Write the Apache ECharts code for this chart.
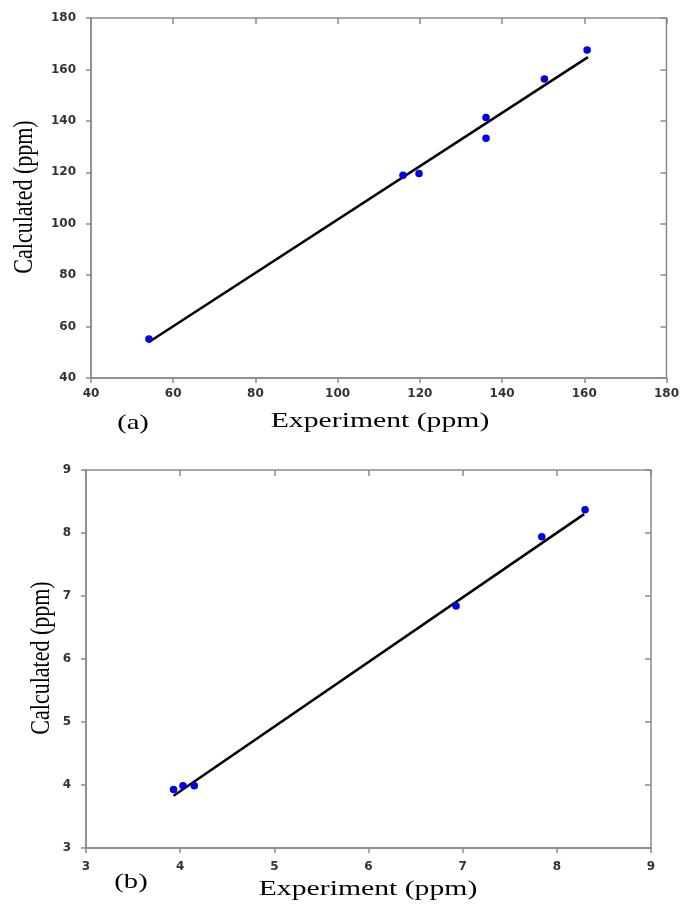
<!DOCTYPE html>
<html>
<head>
<meta charset="utf-8">
<script src="https://cdn.jsdelivr.net/npm/echarts@6/dist/echarts.min.js"></script>
<style>
html,body{margin:0;padding:0;background:#fff;}
#chart{width:682px;height:904px;}
</style>
</head>
<body>
<div id="chart"></div>
<script>
// Panel (a)
var expA = [54.1, 115.9, 119.8, 136.1, 136.1, 150.3, 160.7];
var calcA = [55.2, 118.8, 119.5, 141.3, 133.2, 156.3, 167.6];
var fitAx = [54.0, 160.9];
var fitAy = [53.9, 164.8];
var ticksA = [40, 60, 80, 100, 120, 140, 160, 180];
// Panel (b)
var expB = [3.93, 4.03, 4.15, 6.93, 7.84, 8.30];
var calcB = [3.93, 3.99, 3.99, 6.84, 7.94, 8.37];
var fitBx = [3.93, 8.29];
var fitBy = [3.83, 8.30];
var ticksB = [3, 4, 5, 6, 7, 8, 9];

var xTitle = 'Experiment (ppm)';
var yTitle = 'Calculated (ppm)';
var panelLabels = ['(a)', '(b)'];

function pairs(xs, ys) { return xs.map(function (x, i) { return [x, ys[i]]; }); }

var axisColor = '#8a8a8a';
var labelStyle = { color: '#333333', fontFamily: 'DejaVu Sans', fontWeight: 'bold', fontSize: 12 };

function mainAxis(grid, ticks, margin) {
  return {
    type: 'value', gridIndex: grid,
    min: ticks[0], max: ticks[ticks.length - 1], interval: ticks[1] - ticks[0],
    axisLine: { show: true, lineStyle: { color: axisColor, width: 1.5 } },
    axisTick: { show: true, inside: false, length: 5, lineStyle: { color: axisColor, width: 1.5 } },
    axisLabel: Object.assign({ margin: margin }, labelStyle),
    splitLine: { show: false }
  };
}
function overlayAxis(grid, ticks) {
  return {
    type: 'value', gridIndex: grid,
    min: ticks[0], max: ticks[ticks.length - 1], interval: ticks[1] - ticks[0],
    axisLine: { show: false },
    axisTick: { show: true, inside: true, length: 6, lineStyle: { color: axisColor, width: 1.5 } },
    axisLabel: { show: false },
    splitLine: { show: false }
  };
}

var serif = 'Liberation Serif';
function titleText(txt, x, y, sx, rot) {
  var el = {
    type: 'text', x: x, y: y,
    style: { text: txt, font: '22px "' + serif + '"', fill: '#000', textAlign: 'center', textVerticalAlign: 'middle' },
    silent: true
  };
  if (rot) { el.rotation = Math.PI / 2; el.scaleY = sx; } else { el.scaleX = sx; }
  return el;
}

var chart = echarts.init(document.getElementById('chart'), null, { renderer: 'canvas' });
chart.setOption({
  backgroundColor: '#ffffff',
  animation: false,
  grid: [
    { left: 91, top: 18, width: 576, height: 360, show: true, borderColor: axisColor, borderWidth: 1.5, backgroundColor: 'transparent' },
    { left: 86, top: 470, width: 565, height: 378, show: true, borderColor: axisColor, borderWidth: 1.5, backgroundColor: 'transparent' }
  ],
  xAxis: [mainAxis(0, ticksA, 10), mainAxis(1, ticksB, 13), overlayAxis(0, ticksA), overlayAxis(1, ticksB)],
  yAxis: [mainAxis(0, ticksA, 15), mainAxis(1, ticksB, 15), overlayAxis(0, ticksA), overlayAxis(1, ticksB)],
  series: [
    { type: 'line', xAxisIndex: 0, yAxisIndex: 0, data: pairs(fitAx, fitAy), showSymbol: false, symbol: 'none',
      lineStyle: { color: '#000', width: 2.5 }, z: 2 },
    { type: 'scatter', xAxisIndex: 0, yAxisIndex: 0, data: pairs(expA, calcA), symbolSize: 7.5,
      itemStyle: { color: '#0000e6', opacity: 1 }, z: 3 },
    { type: 'line', xAxisIndex: 1, yAxisIndex: 1, data: pairs(fitBx, fitBy), showSymbol: false, symbol: 'none',
      lineStyle: { color: '#000', width: 2.5 }, z: 2 },
    { type: 'scatter', xAxisIndex: 1, yAxisIndex: 1, data: pairs(expB, calcB), symbolSize: 7.5,
      itemStyle: { color: '#0000e6', opacity: 1 }, z: 3 }
  ],
  graphic: [
    titleText(xTitle, 380, 421, 1.35, false),
    titleText(panelLabels[0], 133, 423, 1.3, false),
    titleText(yTitle, 25, 197, 1.2, true),
    titleText(xTitle, 368, 889, 1.35, false),
    titleText(panelLabels[1], 131, 882, 1.3, false),
    titleText(yTitle, 42, 658, 1.2, true)
  ]
});
</script>
</body>
</html>
